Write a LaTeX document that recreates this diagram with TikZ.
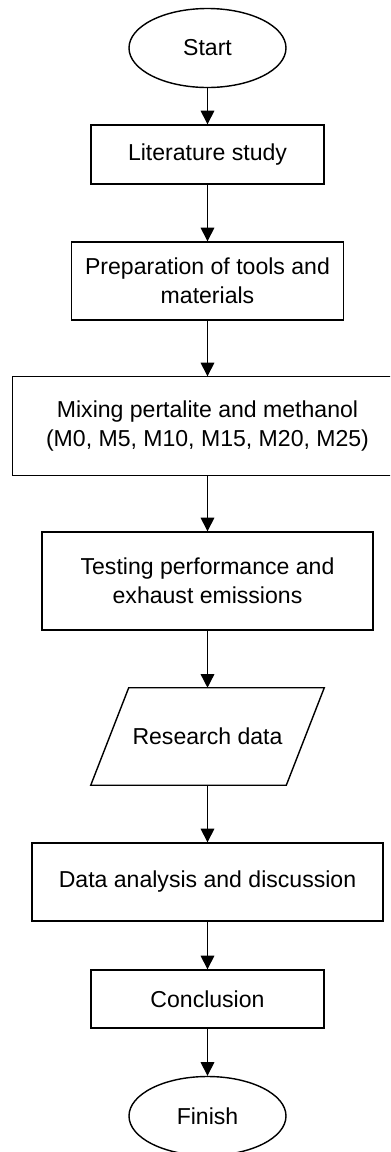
\documentclass[tikz,border=0pt]{standalone}
\usepackage{fontspec}
\setmainfont{Liberation Sans}
\usepackage{tikz}
\usetikzlibrary{positioning,arrows.meta,shapes.geometric}

\begin{document}
\begin{tikzpicture}[
  font=\fontsize{16.4}{20.6}\selectfont,
  startstop/.style={ellipse, draw, line width=1pt, inner sep=0pt,
    minimum width=3.925cm, minimum height=1.975cm},
  procbox/.style={rectangle, draw, line width=1pt, align=center, inner sep=0pt},
  iobox/.style={rectangle, inner sep=0pt, minimum width=5.825cm, minimum height=2.425cm},
  flowarr/.style={-{Triangle[length=3.4mm, width=3.4mm]}, line width=1pt}]
\clip (0,0) rectangle (9.75,-28.8);
% flow steps
\node[startstop] (start) at (5.1875,-1.2) {Start};
\node[procbox, minimum width=5.825cm, minimum height=1.475cm] (lit) at (5.1875,-3.8625) {Literature study};
\node[procbox, minimum width=6.8cm, minimum height=1.95cm] (prep) at (5.1875,-7.025) {Preparation of tools and\\materials};
\node[procbox, draw=none, minimum width=9.725cm, minimum height=2.45cm] (mix) at (5.1875,-10.65) {Mixing pertalite and methanol\\(M0, M5, M10, M15, M20, M25)};
\draw[line width=1pt] (mix.north east) -- (mix.north west) -- (mix.south west) -- (mix.south east);
\node[procbox, minimum width=8.275cm, minimum height=2.45cm] (test) at (5.1875,-14.525) {Testing performance and\\exhaust emissions};
\node[iobox] (data) at (5.1875,-18.4125) {Research data};
\draw[line width=1pt] ([xshift=0.95cm]data.north west) -- (data.north east)
  -- ([xshift=-0.95cm]data.south east) -- (data.south west) -- cycle;
\node[procbox, minimum width=8.775cm, minimum height=1.95cm] (anal) at (5.1875,-22.05) {Data analysis and discussion};
\node[procbox, minimum width=5.825cm, minimum height=1.45cm] (concl) at (5.1875,-24.975) {Conclusion};
\node[startstop] (finish) at (5.1875,-27.9) {Finish};
% connectors
\draw[flowarr] (start) -- (lit);
\draw[flowarr] (lit) -- (prep);
\draw[flowarr] (prep) -- (mix);
\draw[flowarr] (mix) -- (test);
\draw[flowarr] (test) -- (data);
\draw[flowarr] (data) -- (anal);
\draw[flowarr] (anal) -- (concl);
\draw[flowarr] (concl) -- (finish);
\end{tikzpicture}
\end{document}
